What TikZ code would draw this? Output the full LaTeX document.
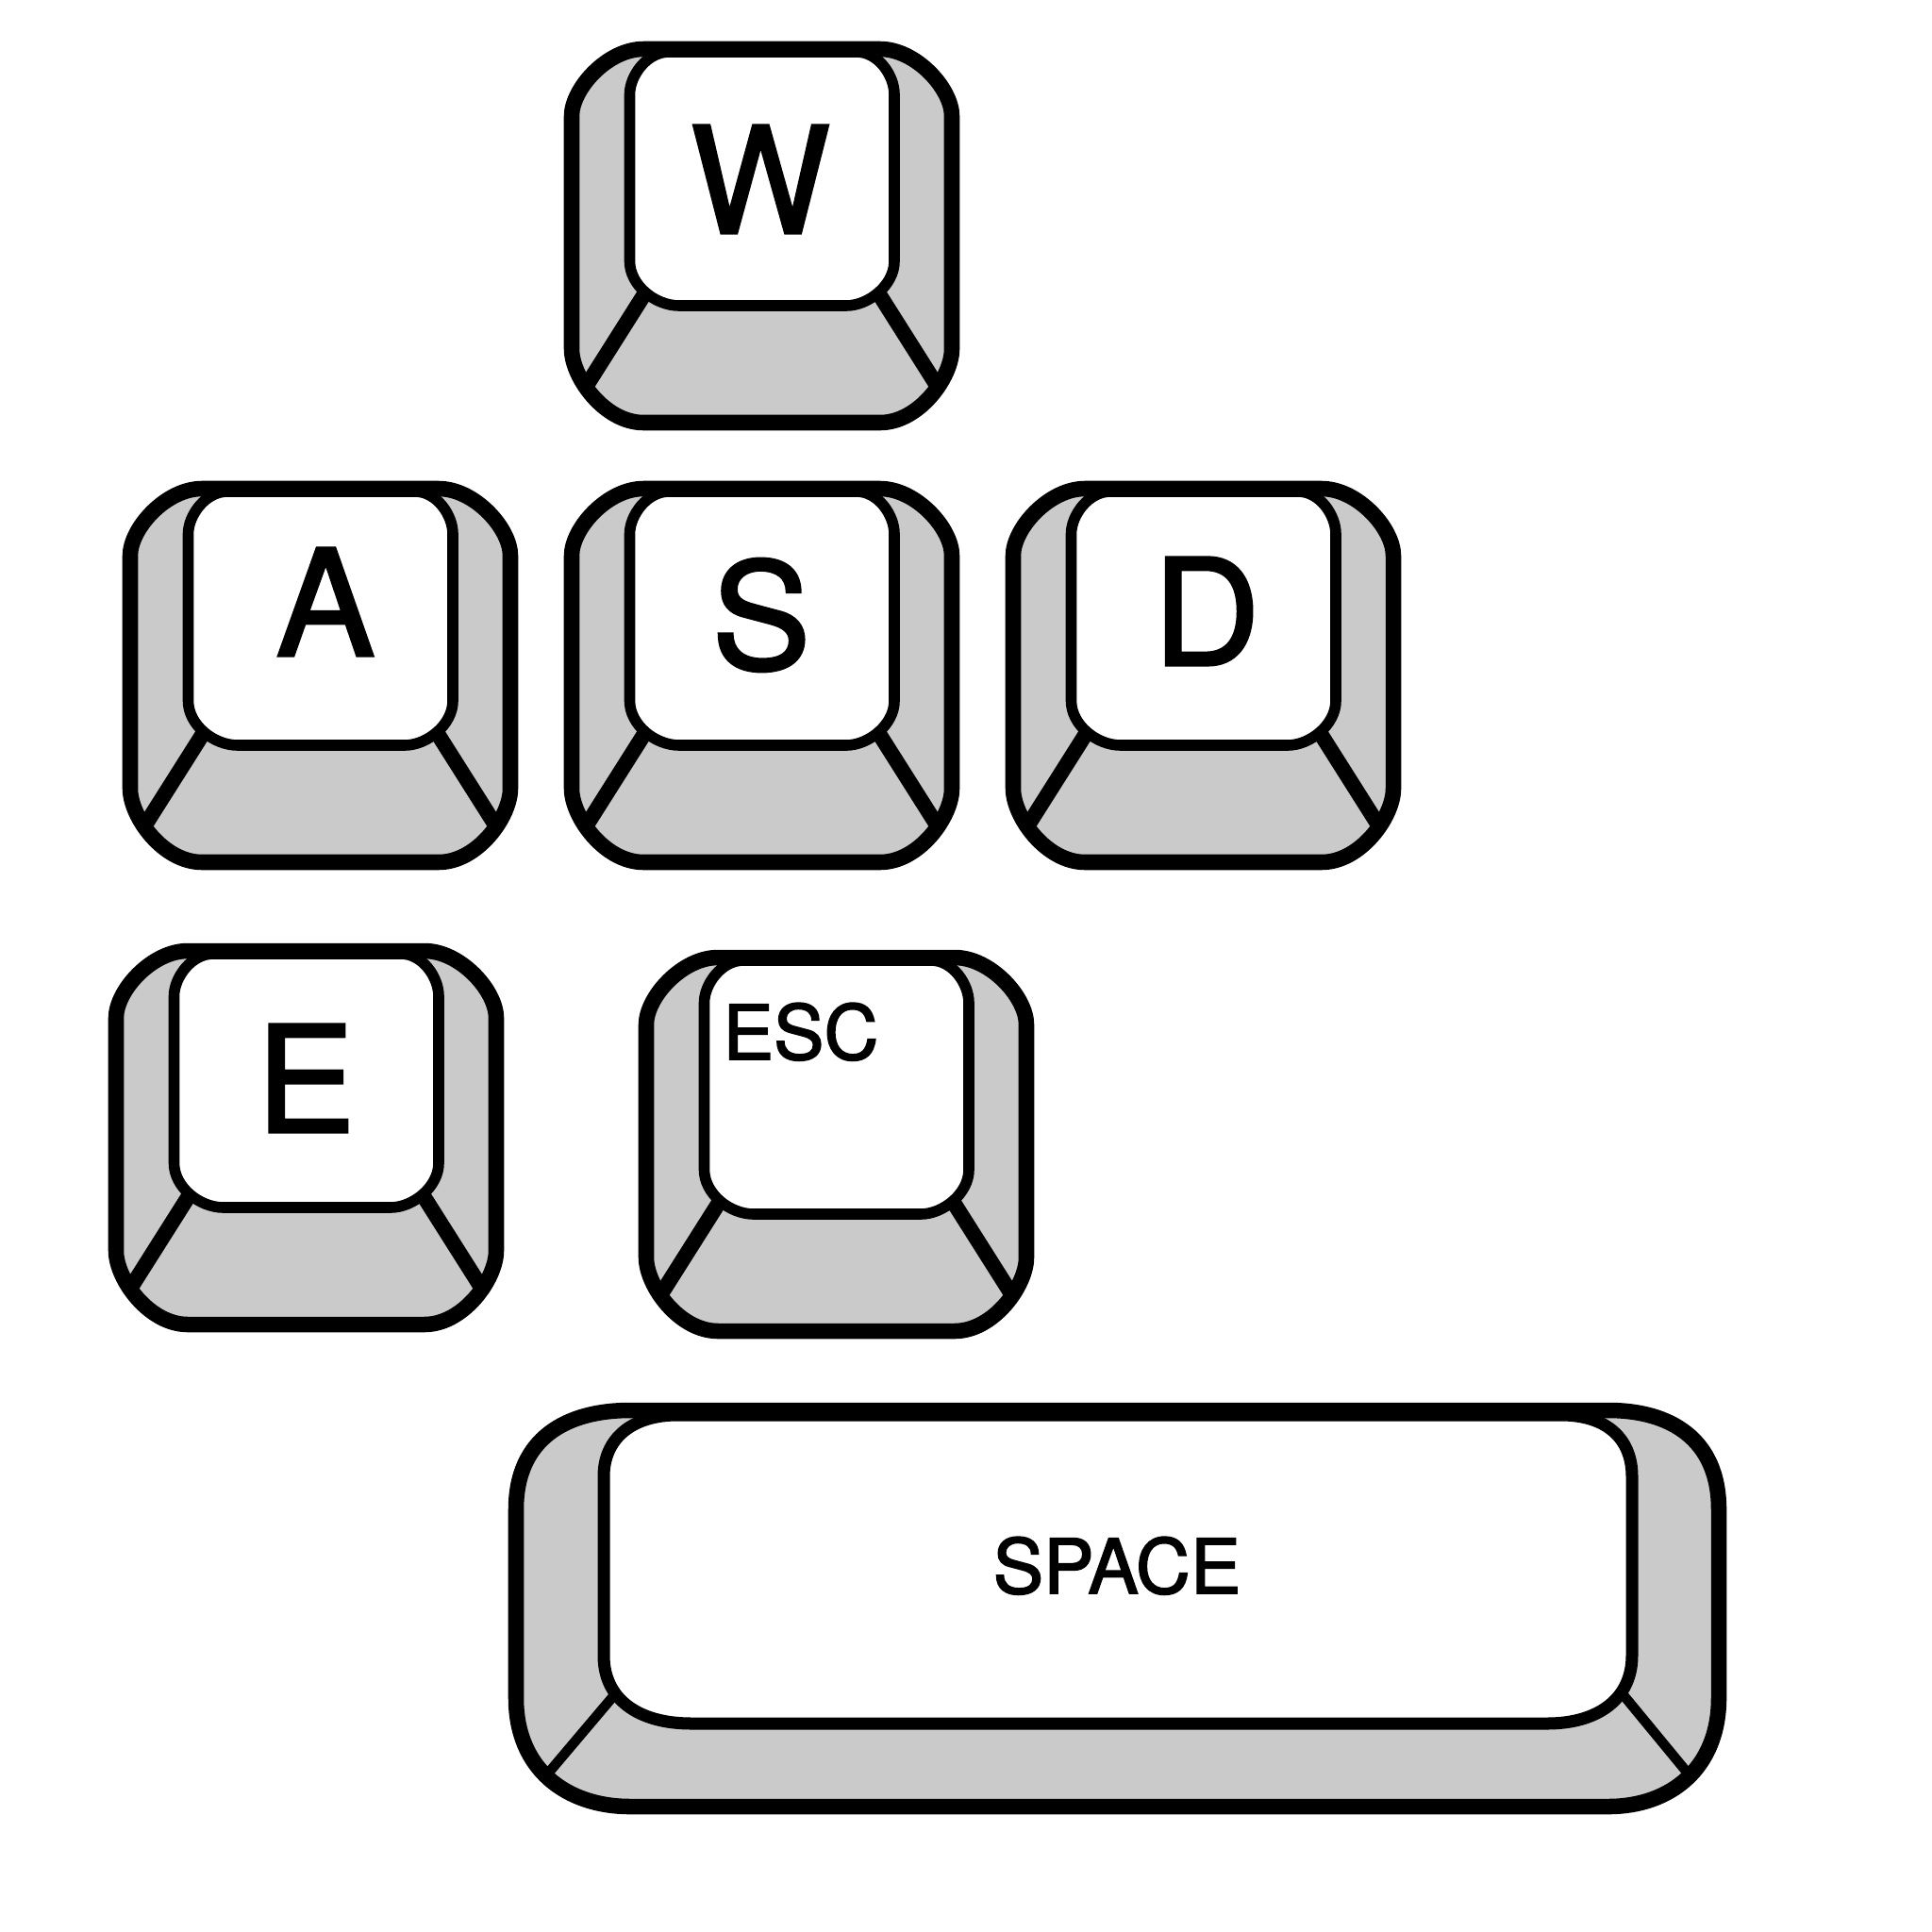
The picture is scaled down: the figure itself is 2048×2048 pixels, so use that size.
\documentclass[tikz,border=0pt]{standalone}
\usepackage{fontspec}
\setmainfont{TeX Gyre Heros}
\newfontfamily\keyfont{TeX Gyre Heros}[RawFeature={embolden=2}]
\definecolor{keygray}{HTML}{CACACA}
\tikzset{
  outerfill/.style={fill=keygray},
  outerline/.style={draw=black,line width=4.7pt,line join=round},
  bevelline/.style={draw=black,line width=4.6pt},
  spacebevel/.style={draw=black,line width=3pt},
  capline/.style={draw=black,fill=white,line width=3.3pt,line join=round},
  biglabel/.style={anchor=base,inner sep=0pt,font=\fontsize{44.5}{50}\keyfont},
  smalllabel/.style={anchor=base,inner sep=0pt,font=\fontsize{22.8}{28}\keyfont}
}
\newcommand{\keyoutline}{(0,71) .. controls (0,42) and (38,0) .. (76,0) -- (327,0)
      .. controls (365,0) and (403,42) .. (403,71) -- (403,318)
      .. controls (403,348) and (368,396) .. (327,396) -- (76,396)
      .. controls (35,396) and (0,348) .. (0,318) -- cycle}
\newcommand{\keycap}[2]{%
  \begin{scope}[shift={(#1,#2)}]
    \path[outerfill] \keyoutline;
    \draw[bevelline] (77,260) -- (15,358);
    \draw[bevelline] (326,260) -- (388,358);
    \draw[outerline] \keyoutline;
    \draw[capline] (61.5,48) .. controls (61.5,28) and (80,3) .. (103,3) -- (302,3)
      .. controls (325,3) and (342,28) .. (342,48) -- (342,225)
      .. controls (342,250) and (315,272) .. (291,272) -- (114,272)
      .. controls (88,272) and (61.5,250) .. (61.5,225) -- cycle;
  \end{scope}}
\newcommand{\spaceoutline}{(547,1600) .. controls (547,1525) and (600,1495) .. (668,1495) -- (1705,1495)
    .. controls (1770,1495) and (1822,1525) .. (1822,1600) -- (1822,1800)
    .. controls (1822,1875) and (1770,1915) .. (1705,1915) -- (668,1915)
    .. controls (600,1915) and (547,1875) .. (547,1800) -- cycle}
\begin{document}
\begin{tikzpicture}[x=0.01cm,y=-0.01cm]
  \useasboundingbox (0,0) rectangle (2048,2048);
  \keycap{606}{52}
  \keycap{606}{518}
  \keycap{138}{518}
  \keycap{1074}{518}
  \keycap{123}{1008}
  \keycap{685}{1015}
  % space bar
  \path[outerfill] \spaceoutline;
  \draw[spacebevel] (651,1797) -- (574,1888);
  \draw[spacebevel] (1721,1797) -- (1796,1888);
  \draw[outerline] \spaceoutline;
  \draw[capline,line width=3.7pt] (640,1565) .. controls (640,1525) and (670,1500) .. (718,1500) -- (1655,1500)
    .. controls (1703,1500) and (1730,1525) .. (1730,1565) -- (1730,1755)
    .. controls (1730,1800) and (1695,1827) .. (1640,1827) -- (733,1827)
    .. controls (675,1827) and (640,1800) .. (640,1755) -- cycle;
  \node[biglabel] (keyW) at (806,247) {W};
  \node[biglabel] (keyA) at (345,695) {A};
  \node[biglabel] (keyS) at (807,709) {S};
  \node[biglabel] (keyD) at (1279,705) {D};
  \node[biglabel] (keyE) at (324,1200) {E};
  \node[smalllabel] (keyEsc) at (849,1123) {ESC};
  \node[smalllabel] (keySpace) at (1184,1689) {SPACE};
\end{tikzpicture}
\end{document}
